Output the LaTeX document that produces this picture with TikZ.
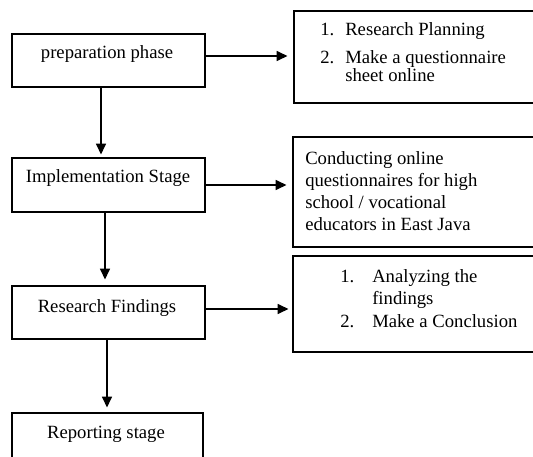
\documentclass[tikz,border=0pt]{standalone}
\usepackage{fontspec}
\setmainfont{Liberation Serif}
\usetikzlibrary{arrows.meta}
\begin{document}
\begin{tikzpicture}[x=0.75pt,y=-0.75pt,
  box/.style={draw, line width=0.9pt, rectangle, inner sep=0pt},
  arr/.style={line width=1pt, -{Triangle[length=8pt,width=7.5pt]}},
  txt/.style={font=\fontsize{14}{16}\selectfont, inner sep=0pt},
]
\useasboundingbox (0,0) rectangle (533,457);
\clip (0,0) rectangle (533,457);
% left boxes
\node[box, minimum width={193*0.75pt}, minimum height={53*0.75pt}] (b1) at (108.5,60.5) {};
\node[box, minimum width={193*0.75pt}, minimum height={54*0.75pt}] (b2) at (108.5,185) {};
\node[box, minimum width={193*0.75pt}, minimum height={53*0.75pt}] (b3) at (108.5,312.5) {};
\node[box, minimum width={191*0.75pt}, minimum height={53*0.75pt}] (b4) at (107.5,439.5) {};
% right boxes
\node[box, minimum width={266*0.75pt}, minimum height={92*0.75pt}] (r1) at (427,57) {};
\node[box, minimum width={267*0.75pt}, minimum height={110*0.75pt}] (r2) at (426.5,192) {};
\node[box, minimum width={267*0.75pt}, minimum height={96*0.75pt}] (r3) at (426.5,304) {};
% left texts
\node[txt, anchor=base] (t1) at (107,58) {preparation phase};
\node[txt, anchor=base] (t2) at (108,182) {Implementation Stage};
\node[txt, anchor=base] (t3) at (107,312) {Research Findings};
\node[txt, anchor=base] (t4) at (106,438) {Reporting stage};
% right box 1
\node[txt, anchor=base west] (n11) at (320,35) {1.};
\node[txt, anchor=base west] (s11) at (345,35) {Research Planning};
\node[txt, anchor=base west] (n12) at (320,63) {2.};
\node[txt, anchor=base west] (s12) at (345,63) {Make a questionnaire};
\node[txt, anchor=base west] (s13) at (345,81) {sheet online};
% right box 2
\node[txt, anchor=base west] (c1) at (305,164) {Conducting online};
\node[txt, anchor=base west] (c2) at (305,186) {questionnaires for high};
\node[txt, anchor=base west] (c3) at (305,208) {school / vocational};
\node[txt, anchor=base west] (c4) at (305,230) {educators in East Java};
% right box 3
\node[txt, anchor=base west] (n31) at (340,282) {1.};
\node[txt, anchor=base west] (s31) at (372,282) {Analyzing the};
\node[txt, anchor=base west] (s32) at (372,304) {findings};
\node[txt, anchor=base west] (n32) at (340,327) {2.};
\node[txt, anchor=base west] (s33) at (372,327) {Make a Conclusion};
% horizontal arrows
\draw[arr, shorten >=4.5pt] (b1.east |- 0,56) -- (r1.west |- 0,56);
\draw[arr, shorten >=4.5pt] (b2.east |- 0,185) -- (r2.west |- 0,185);
\draw[arr, shorten >=3pt] (b3.east |- 0,309) -- (r3.west |- 0,309);
% vertical arrows
\draw[arr, shorten >=2.25pt] (b1.south -| 101,0) -- (b2.north -| 101,0);
\draw[arr, shorten >=4.5pt] (b2.south -| 105,0) -- (b3.north -| 105,0);
\draw[arr, shorten >=3.75pt] (b3.south -| 107,0) -- (b4.north -| 107,0);
\end{tikzpicture}
\end{document}
